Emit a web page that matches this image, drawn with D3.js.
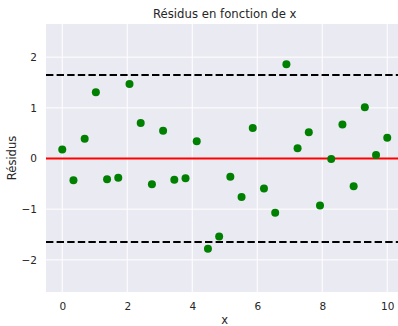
<!DOCTYPE html>
<html>
<head>
<meta charset="utf-8">
<script src="https://cdn.jsdelivr.net/npm/d3@7"></script>
<style>
  body { margin: 0; background: #fff; }
  svg { display: block; font-family: "DejaVu Sans", sans-serif; }
</style>
</head>
<body>
<div id="chart-area"></div>
<script>
// residuals vs x, seaborn darkgrid look
const xValues = [0, 0.345, 0.69, 1.034, 1.379, 1.724, 2.069, 2.414, 2.759, 3.103,
  3.448, 3.793, 4.138, 4.483, 4.828, 5.172, 5.517, 5.862, 6.207, 6.552,
  6.897, 7.241, 7.586, 7.931, 8.276, 8.621, 8.966, 9.31, 9.655, 10]
const residuals = [0.18, -0.43, 0.39, 1.31, -0.41, -0.38, 1.47, 0.70, -0.51, 0.55,
  -0.42, -0.39, 0.34, -1.78, -1.54, -0.36, -0.76, 0.60, -0.59, -1.07,
  1.86, 0.20, 0.52, -0.93, -0.01, 0.67, -0.55, 1.01, 0.07, 0.41]
const thresholds = [1.65, -1.65]
const xTicks = [0, 2, 4, 6, 8, 10]
const yTicks = [-2, -1, 0, 1, 2]

const W = 398, H = 326
const PLOT = { LEFT: 46, RIGHT: 403.5, TOP: 24, BOTTOM: 292 }

const svg = d3.select('#chart-area')
  .append('svg')
  .attr('width', W)
  .attr('height', H)

const x = d3.scaleLinear()
  .domain([-0.5, 10.5])
  .range([PLOT.LEFT, PLOT.RIGHT])

const y = d3.scaleLinear()
  .domain([-2.635, 2.655])
  .range([PLOT.BOTTOM, PLOT.TOP])

svg.append('rect')
  .attr('x', PLOT.LEFT)
  .attr('y', PLOT.TOP)
  .attr('width', PLOT.RIGHT - PLOT.LEFT)
  .attr('height', PLOT.BOTTOM - PLOT.TOP)
  .attr('fill', '#eaeaf2')

// grid
svg.append('g')
  .selectAll('line')
  .data(xTicks)
  .enter()
  .append('line')
  .attr('x1', d => x(d)).attr('x2', d => x(d))
  .attr('y1', PLOT.TOP).attr('y2', PLOT.BOTTOM)
  .attr('stroke', '#fff').attr('stroke-width', 1)

svg.append('g')
  .selectAll('line')
  .data(yTicks)
  .enter()
  .append('line')
  .attr('y1', d => y(d)).attr('y2', d => y(d))
  .attr('x1', PLOT.LEFT).attr('x2', PLOT.RIGHT)
  .attr('stroke', '#fff').attr('stroke-width', 1)

// axes (no spines, no tick marks)
svg.append('g')
  .attr('transform', `translate(0, ${PLOT.BOTTOM})`)
  .call(d3.axisBottom(x).tickValues(xTicks).tickSize(0).tickPadding(10.5))
svg.append('g')
  .attr('transform', `translate(${PLOT.LEFT}, 0)`)
  .call(d3.axisLeft(y).tickValues(yTicks).tickSize(0).tickPadding(9)
    .tickFormat(d => d < 0 ? '\u2212' + Math.abs(d) : d))
svg.selectAll('.domain').remove()
svg.selectAll('.tick text')
  .attr('font-family', '"DejaVu Sans", sans-serif')
  .attr('font-size', 10.5)
  .attr('fill', '#262626')

// zero line and thresholds
svg.append('line')
  .attr('x1', PLOT.LEFT).attr('x2', PLOT.RIGHT)
  .attr('y1', y(0)).attr('y2', y(0))
  .attr('stroke', 'red').attr('stroke-width', 1.8)

svg.selectAll('.thr')
  .data(thresholds)
  .enter()
  .append('line')
  .attr('class', 'thr')
  .attr('x1', PLOT.LEFT).attr('x2', PLOT.RIGHT)
  .attr('y1', d => y(d)).attr('y2', d => y(d))
  .attr('stroke', 'black').attr('stroke-width', 2)
  .attr('stroke-dasharray', '7.4,3.2')

svg.selectAll('circle')
  .data(xValues)
  .enter()
  .append('circle')
  .attr('r', 4)
  .attr('fill', 'green')
  .attr('cx', d => x(d))
  .attr('cy', (d, i) => y(residuals[i]))

// labels
svg.append('text')
  .attr('x', (PLOT.LEFT + PLOT.RIGHT) / 2)
  .attr('y', 17.5)
  .attr('text-anchor', 'middle')
  .attr('font-size', 11.7)
  .attr('fill', '#262626')
  .text('Résidus en fonction de x')

svg.append('text')
  .attr('x', (PLOT.LEFT + PLOT.RIGHT) / 2)
  .attr('y', 323.5)
  .attr('text-anchor', 'middle')
  .attr('font-size', 11.5)
  .attr('fill', '#262626')
  .text('x')

svg.append('text')
  .attr('transform', `translate(16, ${(PLOT.TOP + PLOT.BOTTOM) / 2}) rotate(-90)`)
  .attr('text-anchor', 'middle')
  .attr('font-size', 11.5)
  .attr('fill', '#262626')
  .text('Résidus')
</script>
</body>
</html>
